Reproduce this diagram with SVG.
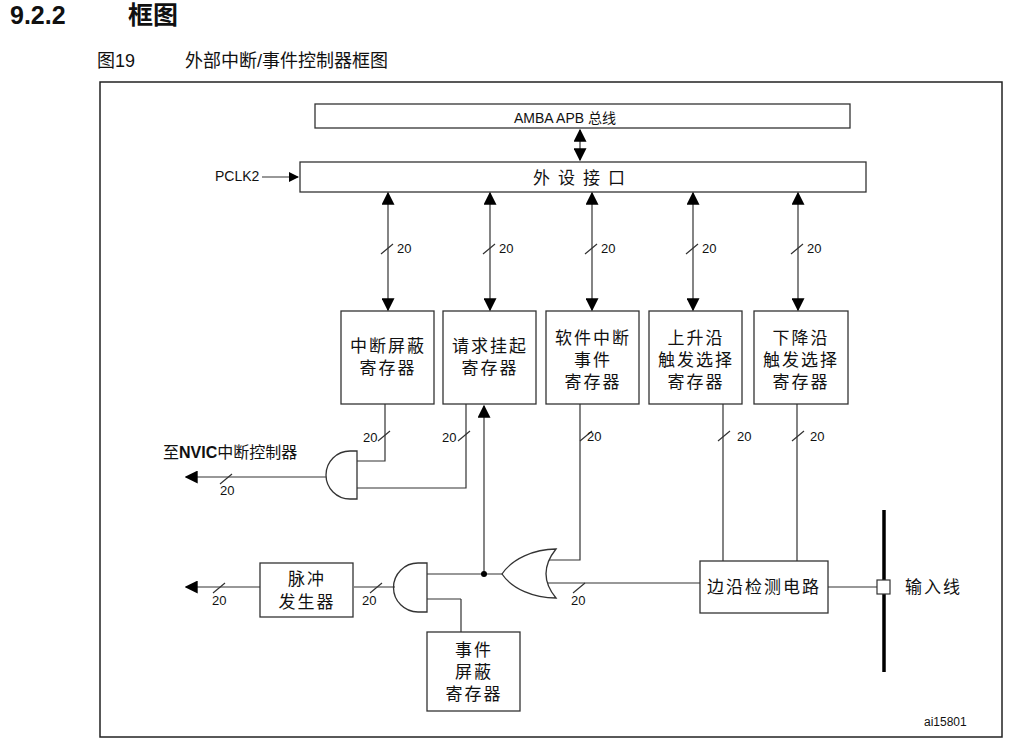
<svg xmlns="http://www.w3.org/2000/svg" width="1022" height="741" viewBox="0 0 1022 741">
<defs>
<marker id="ah" viewBox="0 0 10 10" refX="9" refY="5" markerWidth="10" markerHeight="10" markerUnits="userSpaceOnUse" orient="auto-start-reverse"><path d="M0,0L10,5L0,10Z" fill="#000"/></marker>
<marker id="ahb" viewBox="0 0 10 10" refX="9" refY="5" markerWidth="13" markerHeight="13" markerUnits="userSpaceOnUse" orient="auto-start-reverse"><path d="M0,0L10,5L0,10Z" fill="#000"/></marker>
</defs>
<style>
text{font-family:"Liberation Sans","Noto Sans CJK SC",sans-serif;fill:#111}
.box{fill:#fff;stroke:#333;stroke-width:1.3}
.w{fill:none;stroke:#333;stroke-width:1.2}
.c{font-size:17px;text-anchor:middle;letter-spacing:2px}
.n{font-size:13px}
</style>
<rect width="1022" height="741" fill="#fff"/>
<text x="10" y="24" font-size="25" font-weight="bold">9.2.2</text>
<text x="128" y="24" font-size="25" font-weight="bold">框图</text>
<text x="97" y="67" font-size="18">图19</text>
<text x="185" y="67" font-size="18">外部中断/事件控制器框图</text>
<rect x="100" y="82" width="902" height="655" fill="none" stroke="#222" stroke-width="1.5"/>

<g id="amba"><rect class="box" x="315" y="104" width="535" height="24"/><text x="565" y="123" font-size="14" text-anchor="middle">AMBA APB 总线</text></g>
<g id="periph"><rect class="box" x="300" y="162" width="566" height="30"/><text x="583" y="184" class="c" style="letter-spacing:8px">外设接口</text></g>
<g id="pclk"><text x="215" y="181" font-size="14">PCLK2</text></g>

<g id="r1"><rect class="box" x="341" y="311" width="93" height="93"/><text class="c" x="388" y="352">中断屏蔽</text><text class="c" x="388" y="374">寄存器</text></g>
<g id="r2"><rect class="box" x="443" y="311" width="93" height="93"/><text class="c" x="490" y="352">请求挂起</text><text class="c" x="490" y="374">寄存器</text></g>
<g id="r3"><rect class="box" x="546" y="311" width="93" height="93"/><text class="c" x="593" y="344">软件中断</text><text class="c" x="593" y="366">事件</text><text class="c" x="593" y="388">寄存器</text></g>
<g id="r4"><rect class="box" x="649" y="311" width="93" height="93"/><text class="c" x="696" y="344">上升沿</text><text class="c" x="696" y="366">触发选择</text><text class="c" x="696" y="388">寄存器</text></g>
<g id="r5"><rect class="box" x="754" y="311" width="94" height="93"/><text class="c" x="801" y="344">下降沿</text><text class="c" x="801" y="366">触发选择</text><text class="c" x="801" y="388">寄存器</text></g>
<g id="pulse"><rect class="box" x="260" y="563" width="93" height="54"/><text class="c" x="307" y="585">脉冲</text><text class="c" x="307" y="608">发生器</text></g>
<g id="evmask"><rect class="box" x="427" y="632" width="93" height="79"/><text class="c" x="474" y="656">事件</text><text class="c" x="474" y="678">屏蔽</text><text class="c" x="474" y="700">寄存器</text></g>
<g id="edge"><rect class="box" x="700" y="561" width="128" height="52"/><text class="c" x="764" y="593">边沿检测电路</text></g>
<g id="and1"><path class="box" d="M357,451H350A24,24 0 0 0 350,499H357Z"/></g>
<g id="and2"><path class="box" d="M427,563H418A24.5,24.5 0 0 0 418,612H427Z"/></g>
<g id="or1"><path class="box" d="M556,549C534,549 512,559 502,574C512,589 534,598 556,598Q536,574 556,549Z"/></g>
<g id="input"><line x1="884" y1="510" x2="884" y2="672" stroke="#000" stroke-width="3.5"/><rect x="877" y="580" width="13" height="14" fill="#fff" stroke="#333" stroke-width="1.2"/><text x="905" y="593" font-size="17" style="letter-spacing:2px">输入线</text></g>

<g id="connectors">
<line class="w" x1="262" y1="177" x2="298" y2="177" marker-end="url(#ah)"/>
<line class="w" x1="580" y1="130" x2="580" y2="160" marker-start="url(#ahb)" marker-end="url(#ahb)"/>
<g class="w" marker-start="url(#ahb)" marker-end="url(#ahb)">
<line x1="388" y1="193" x2="388" y2="310"/>
<line x1="490" y1="193" x2="490" y2="310"/>
<line x1="592" y1="193" x2="592" y2="310"/>
<line x1="693" y1="193" x2="693" y2="310"/>
<line x1="798" y1="193" x2="798" y2="310"/>
</g>
<path class="w" d="M381,254L393,244M483,254L495,244M585,254L597,244M686,254L698,244M791,254L803,244"/>
<path class="w" d="M385,404V461H357M466,404V488H357M580,404V560H549M427,574H503M461,599H427M461,599V632M395,587H354M548,583H700M723,404V561M797,404V561M828,587H877"/>
<path class="w" d="M378,441L390,431M458,441L470,431M580,441L592,431M718,441L730,431M792,441L804,431M220,484L232,474M370,593L382,583M213,593L225,583M573,593L585,583"/>
<line class="w" x1="484" y1="574" x2="484" y2="406" marker-end="url(#ahb)"/>
<line class="w" x1="326" y1="477" x2="186" y2="477" marker-end="url(#ahb)"/>
<line class="w" x1="260" y1="587" x2="186" y2="587" marker-end="url(#ahb)"/>
<circle cx="484" cy="574" r="3" fill="#000"/>
</g>
<g class="n">
<text x="397" y="253" font-size="13">20</text><text x="499" y="253" font-size="13">20</text><text x="601" y="253" font-size="13">20</text><text x="702" y="253" font-size="13">20</text><text x="807" y="253" font-size="13">20</text>
<text x="363" y="442" font-size="13">20</text><text x="442" y="442" font-size="13">20</text><text x="587" y="441" font-size="13">20</text><text x="737" y="441" font-size="13">20</text><text x="810" y="441" font-size="13">20</text>
<text x="220" y="495" font-size="13">20</text><text x="212" y="605" font-size="13">20</text><text x="362" y="605" font-size="13">20</text><text x="571" y="605" font-size="13">20</text>
</g>
<text x="163" y="458" font-size="16">至<tspan font-weight="bold">NVIC</tspan>中断控制器</text>
<text x="924" y="726" font-size="12">ai15801</text>
</svg>
